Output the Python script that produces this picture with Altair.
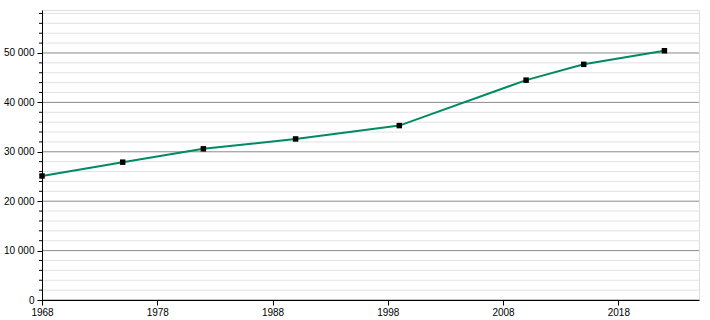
import altair as alt
import pandas as pd

years = [1968, 1975, 1982, 1990, 1999, 2010, 2015, 2022]
population = [25100, 27900, 30600, 32600, 35300, 44500, 47700, 50450]

major_ticks = [0, 10000, 20000, 30000, 40000, 50000]
minor_ticks = [v for v in range(0, 58001, 2000) if v % 10000 != 0]
year_ticks = [1968, 1978, 1988, 1998, 2008, 2018]

W, H = 657, 290
FONT = "Liberation Sans"

df = pd.DataFrame({"year": years, "pop": population})
minor_df = pd.DataFrame({"v": minor_ticks})
major_df = pd.DataFrame({"v": major_ticks})

yscale = alt.Scale(domain=[0, 58700], nice=False, zero=True)
xscale = alt.Scale(domain=[1968, 2025], nice=False, zero=False)

yaxis = alt.Axis(values=major_ticks, grid=False, zindex=1,
                 labelExpr="replace(format(datum.value, ','), ',', ' ')",
                 domainColor="#000000", tickColor="#000000", tickSize=5,
                 labelFont=FONT, labelFontSize=10, labelColor="#000000",
                 labelPadding=3)
xaxis = alt.Axis(values=year_ticks, format="d", grid=False, zindex=1,
                 domainColor="#000000", tickColor="#000000", tickSize=5,
                 labelFont=FONT, labelFontSize=10, labelColor="#000000",
                 labelPadding=2, labelFlush=False)

minor_grid = alt.Chart(minor_df).mark_rule(color="#e2e2e2", strokeWidth=1).encode(
    y=alt.Y("v:Q", scale=yscale, axis=yaxis, title=None),
    x=alt.value(0), x2=alt.value(W),
)
minor_tick = alt.Chart(minor_df).mark_rule(color="#000000", strokeWidth=1).encode(
    y=alt.Y("v:Q", scale=yscale, axis=yaxis, title=None),
    x=alt.value(-3), x2=alt.value(0),
)
major_grid = alt.Chart(major_df).mark_rule(color="#8a8a8a", strokeWidth=1).encode(
    y=alt.Y("v:Q", scale=yscale, axis=yaxis, title=None),
    x=alt.value(0), x2=alt.value(W),
)

line = alt.Chart(df).mark_line(color="#008a63", strokeWidth=2).encode(
    x=alt.X("year:Q", scale=xscale, title=None, axis=xaxis),
    y=alt.Y("pop:Q", scale=yscale, title=None, axis=yaxis),
)
points = alt.Chart(df).mark_square(color="#000000", size=30, opacity=1).encode(
    x=alt.X("year:Q", scale=xscale, title=None, axis=xaxis),
    y=alt.Y("pop:Q", scale=yscale, title=None, axis=yaxis),
)

chart = alt.layer(minor_grid, major_grid, minor_tick, line, points).properties(
    width=W, height=H,
    autosize=alt.AutoSizeParams(type="none"),
    padding={"left": 42, "top": 10, "right": 11, "bottom": 20},
).configure_view(stroke=None).configure(background="#ffffff")

chart.save("out.html", embed_options={"renderer": "svg", "actions": False})
